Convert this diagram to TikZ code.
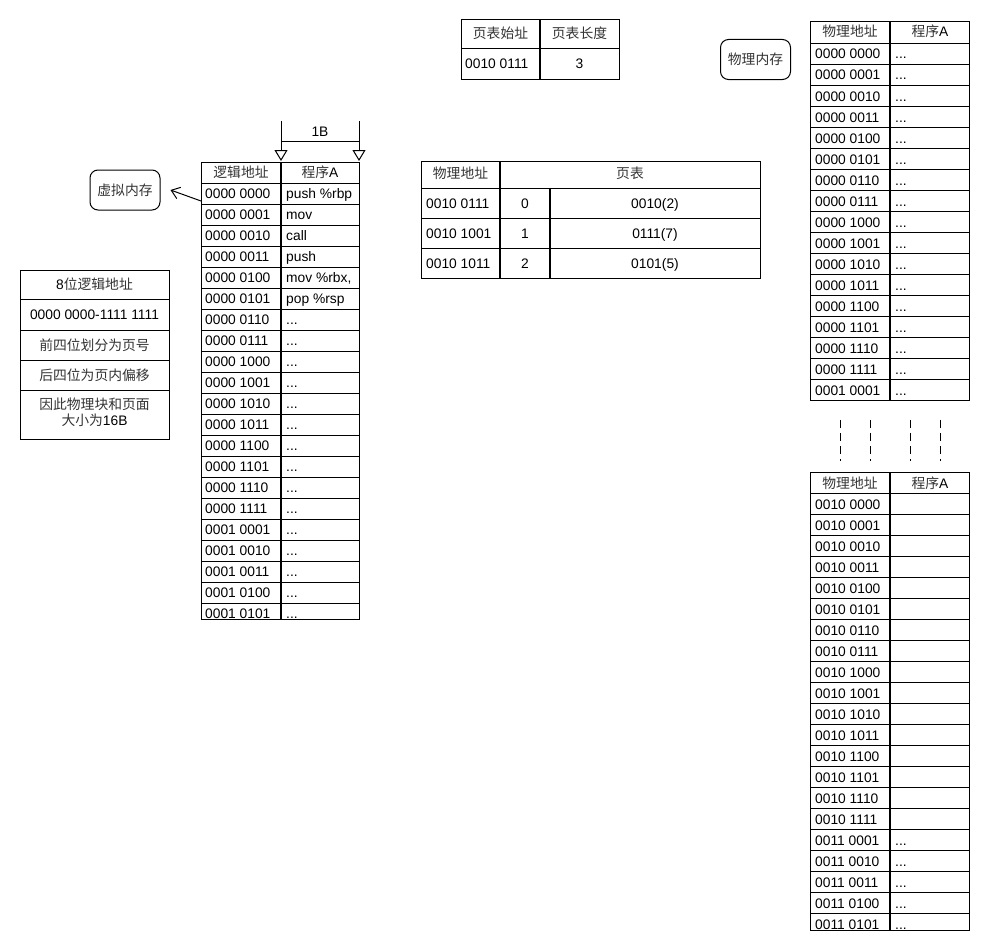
\documentclass[tikz,border=0pt]{standalone}
\usepackage{fontspec}
\setmainfont{Liberation Sans}
\newfontfamily\cjk{Noto Sans CJK SC}
\usetikzlibrary{arrows.meta}
\newcommand\zh[1]{{\cjk\color{black!80}#1}}

\begin{document}
\begin{tikzpicture}[x=1pt,y=-1pt,
  every node/.style={inner sep=0pt, font=\fontsize{13.8}{16.5}\selectfont},
  gridline/.style={draw=black, line width=1pt},
  divline/.style={draw=black, line width=2pt},
  lefttxt/.style={anchor=base west},
  midtxt/.style={anchor=base},
  bubble/.style={draw, line width=1pt, rounded corners=8pt,
                 minimum width=70pt, minimum height=40pt},
  thinline/.style={line width=1pt},
  gapline/.style={line width=1pt, dash pattern=on 8pt off 5pt}]
\useasboundingbox (0,0) rectangle (990,950);

% ---------- page table base register ----------
\draw[gridline] (461,20) rectangle (619,79);
\draw[gridline] (461,49) -- (619,49);
\draw[divline] (540,20) -- (540,79);
\node[midtxt] (ptbase) at (500.5,38) {\zh{页表始址}};
\node[midtxt] (ptlen) at (579.5,38) {\zh{页表长度}};
\node[lefttxt] (ptbaseval) at (465,68) {0010 0111};
\node[midtxt] (ptlenval) at (579.5,68) {3};

% ---------- labels ----------
\node[bubble] (pm) at (755.5,59.5) {\zh{物理内存}};
\node[bubble] (vm) at (125,190) {\zh{虚拟内存}};

% ---------- page table ----------
\draw[gridline] (421,161) rectangle (760,278);
\foreach \y in {188,218,248} \draw[gridline] (421,\y) -- (760,\y);
\draw[divline] (500,161) -- (500,278);
\draw[divline] (550,188) -- (550,278);
\node[midtxt] (pth1) at (460.5,178) {\zh{物理地址}};
\node[midtxt] (pth2) at (630,178) {\zh{页表}};
\foreach \a/\n/\f [count=\i from 0] in {0010 0111/0/0010(2), 0010 1001/1/0111(7), 0010 1011/2/0101(5)} {
  \node[lefttxt] (pta\i) at (426,{208+30*\i}) {\a};
  \node[midtxt] (ptn\i) at (525,{208+30*\i}) {\n};
  \node[midtxt] (ptf\i) at (655,{208+30*\i}) {\f};
}

% ---------- address split notes ----------
\draw[gridline] (20,270) rectangle (169,439);
\foreach \y in {299,330,360,390} \draw[gridline] (20,\y) -- (169,\y);
\node[midtxt] (n1) at (94.5,289) {8\zh{位逻辑地址}};
\node[midtxt] (n2) at (94.5,319) {0000 0000-1111 1111};
\node[midtxt] (n3) at (94.5,350) {\zh{前四位划分为页号}};
\node[midtxt] (n4) at (94.5,380) {\zh{后四位为页内偏移}};
\node[midtxt] (n5) at (94.5,409) {\zh{因此物理块和页面}};
\node[midtxt] (n6) at (94.5,425.5) {\zh{大小为}16B};

% ---------- logical address space ----------
\draw[gridline] (201,162) rectangle (359,619);
\foreach \k in {0,...,20} \draw[gridline] (201,{183+21*\k}) -- (359,{183+21*\k});
\draw[divline] (281,162) -- (281,619);
\node[midtxt] (lh1) at (241,177) {\zh{逻辑地址}};
\node[midtxt] (lh2) at (320,177) {\zh{程序}A};
\foreach \a [count=\i from 0] in {0000 0000,0000 0001,0000 0010,0000 0011,0000 0100,0000 0101,
  0000 0110,0000 0111,0000 1000,0000 1001,0000 1010,0000 1011,0000 1100,0000 1101,0000 1110,
  0000 1111,0001 0001,0001 0010,0001 0011,0001 0100,0001 0101}
  \node[lefttxt] (la\i) at (205,{198+21*\i}) {\a};
\node[lefttxt] (lc0) at (286,198) {push \%rbp};
\node[lefttxt] (lc1) at (286,219) {mov};
\node[lefttxt] (lc2) at (286,240) {call};
\node[lefttxt] (lc3) at (286,261) {push};
\node[lefttxt] (lc4) at (286,282) {mov \%rbx,};
\node[lefttxt] (lc5) at (286,303) {pop \%rsp};
\foreach \i in {6,...,20} \node[lefttxt] (lc\i) at (286,{198+21*\i}) {...};

% one-byte width marker above the table
\coordinate (dl) at (281,121);
\coordinate (dr) at (359,121);
\coordinate (dlm) at (281,141);
\coordinate (drm) at (359,141);
\coordinate (dlt) at (281,161);
\coordinate (drt) at (359,161);
\draw[thinline,-{Triangle[length=11pt,width=13pt,fill=white]}] (dl) -- (dlt);
\draw[thinline,-{Triangle[length=11pt,width=13pt,fill=white]}] (dr) -- (drt);
\draw[thinline] (dlm) -- (drm);
\node[midtxt] (onebyte) at (320,136) {1B};

% pointer from the table to its label
\coordinate (vmsrc) at (201,201);
\draw[thinline,-{Straight Barb[length=8pt,width=12pt]}] (vmsrc) -- ([xshift=10pt]vm.east);

% ---------- physical memory, low part ----------
\draw[gridline] (810,22) rectangle (969,400.5);
\foreach \k in {0,...,16} \draw[gridline] (810,{43.5+21*\k}) -- (969,{43.5+21*\k});
\draw[divline] (890,22) -- (890,400.5);
\node[midtxt] (ph1) at (850,37) {\zh{物理地址}};
\node[midtxt] (ph2) at (930,37) {\zh{程序}A};
\foreach \a [count=\i from 0] in {0000 0000,0000 0001,0000 0010,0000 0011,0000 0100,0000 0101,
  0000 0110,0000 0111,0000 1000,0000 1001,0000 1010,0000 1011,0000 1100,0000 1101,0000 1110,
  0000 1111,0001 0001} {
  \node[lefttxt] (pa\i) at (815,{59+21*\i}) {\a};
  \node[lefttxt] (pc\i) at (895,{59+21*\i}) {...};
}

% gap marks
\foreach \x in {840,870,910,940} \draw[gapline] (\x,420) -- (\x,461);

% ---------- physical memory, high part ----------
\draw[gridline] (810,472) rectangle (969,930);
\foreach \k in {0,...,20} \draw[gridline] (810,{493.5+21*\k}) -- (969,{493.5+21*\k});
\draw[divline] (890,472) -- (890,930);
\node[midtxt] (qh1) at (850,488) {\zh{物理地址}};
\node[midtxt] (qh2) at (930,488) {\zh{程序}A};
\foreach \a [count=\i from 0] in {0010 0000,0010 0001,0010 0010,0010 0011,0010 0100,0010 0101,
  0010 0110,0010 0111,0010 1000,0010 1001,0010 1010,0010 1011,0010 1100,0010 1101,0010 1110,
  0010 1111,0011 0001,0011 0010,0011 0011,0011 0100,0011 0101}
  \node[lefttxt] (qa\i) at (815,{509+21*\i}) {\a};
\foreach \i in {16,...,20} \node[lefttxt] (qc\i) at (895,{509+21*\i}) {...};
\end{tikzpicture}
\end{document}
